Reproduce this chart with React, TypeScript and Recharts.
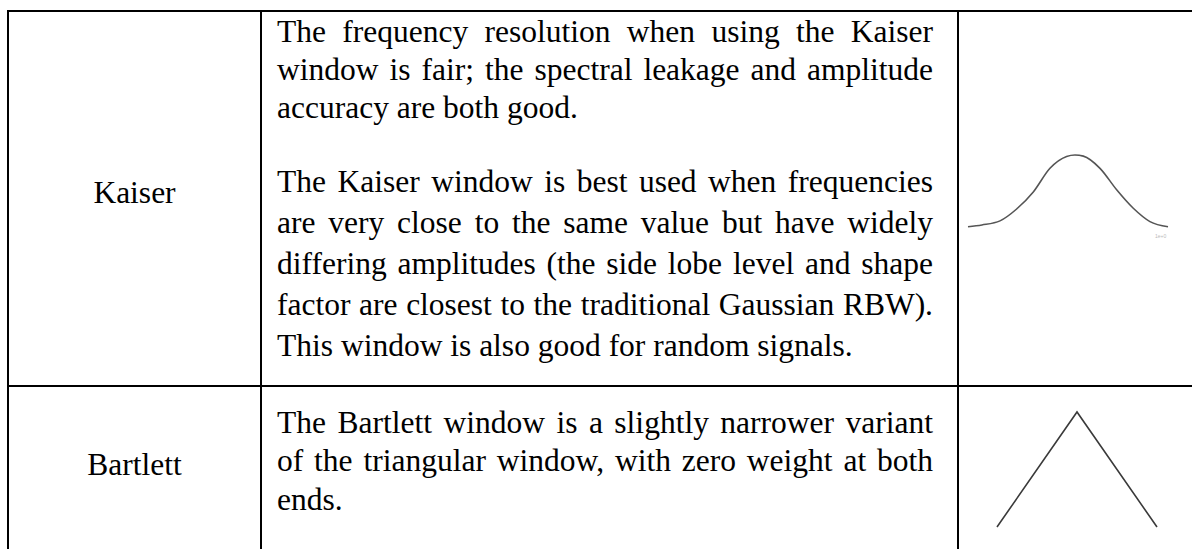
import React from "react"
import { LineChart, Line, XAxis, YAxis } from "recharts"

// window shapes (position relative to the peak, relative amplitude)
const kaiserPos = [-1.15, -1, -0.806, -0.627, -0.448, -0.269, -0.09, 0, 0.09, 0.269, 0.448, 0.627, 0.806, 1]
const kaiserAmp = [0.03, 0.055, 0.11, 0.27, 0.5, 0.82, 0.98, 1, 0.985, 0.82, 0.53, 0.28, 0.1, 0.03]
const bartlettPos = [-1, 0, 1]
const bartlettAmp = [0, 1, 0]

const kaiserLines = [
  "The frequency resolution when using the Kaiser",
  "window is fair; the spectral leakage and amplitude",
  "accuracy are both good.",
]
const kaiserLines2 = [
  "The Kaiser window is best used when frequencies",
  "are very close to the same value but have widely",
  "differing amplitudes (the side lobe level and shape",
  "factor are closest to the traditional Gaussian RBW).",
  "This window is also good for random signals.",
]
const bartlettLines = [
  "The Bartlett window is a slightly narrower variant",
  "of the triangular window, with zero weight at both",
  "ends.",
]

const kaiserData = kaiserPos.map((t, i) => ({ t, w: kaiserAmp[i] }))
const bartlettData = bartlettPos.map((t, i) => ({ t, w: bartlettAmp[i] }))

const FS = 31.5
const LH = 38
const OFF = 29.5 // baseline offset inside a line box

const lineStyle = (baseline: number, last: boolean): React.CSSProperties => ({
  position: "absolute",
  left: 277,
  width: 656,
  top: baseline - OFF,
  height: LH,
  lineHeight: `${LH}px`,
  whiteSpace: "nowrap",
  textAlign: last ? "left" : "justify",
  textAlignLast: last ? "left" : "justify",
})

function TextLines({ lines, first, step }: { lines: string[]; first: number; step: number }) {
  return (
    <>
      {lines.map((l, i) => (
        <div key={i} style={lineStyle(first + i * step, i === lines.length - 1)}>
          {l}
        </div>
      ))}
    </>
  )
}

function WindowChart({
  data,
  domain,
  left,
  top,
  width,
  height,
  curve,
  color,
}: {
  data: { t: number; w: number }[]
  domain: [number, number]
  left: number
  top: number
  width: number
  height: number
  curve: "monotone" | "linear"
  color: string
}) {
  const m = 5
  return (
    <div style={{ position: "absolute", left: left - m, top: top - m }}>
      <LineChart width={width + 2 * m} height={height + 2 * m} data={data} margin={{ top: m, right: m, bottom: m, left: m }}>
        <XAxis dataKey="t" type="number" domain={domain} hide />
        <YAxis type="number" domain={[0, 1]} hide />
        <Line
          type={curve}
          dataKey="w"
          stroke={color}
          strokeWidth={1.6}
          dot={false}
          isAnimationActive={false}
        />
      </LineChart>
    </div>
  )
}

const black = "#000"

export default function App() {
  return (
    <div
      style={{
        position: "absolute",
        left: 0,
        top: 0,
        width: 1192,
        height: 549,
        overflow: "hidden",
        background: "#fff",
        fontFamily: "'Liberation Serif', 'Times New Roman', serif",
        fontSize: FS,
        color: "#000",
      }}
    >
      {/* table rules */}
      <div style={{ position: "absolute", left: 7, top: 10, width: 1200, height: 2, background: black }} />
      <div style={{ position: "absolute", left: 7, top: 385, width: 1200, height: 2, background: black }} />
      <div style={{ position: "absolute", left: 7, top: 10, width: 2, height: 560, background: black }} />
      <div style={{ position: "absolute", left: 260, top: 10, width: 2, height: 560, background: black }} />
      <div style={{ position: "absolute", left: 957, top: 10, width: 2, height: 560, background: black }} />

      {/* first column */}
      <div style={{ position: "absolute", left: 9, width: 251, top: 203 - OFF, lineHeight: `${LH}px`, textAlign: "center" }}>
        Kaiser
      </div>
      <div style={{ position: "absolute", left: 9, width: 251, top: 475 - OFF, lineHeight: `${LH}px`, textAlign: "center" }}>
        Bartlett
      </div>

      {/* description column */}
      <TextLines lines={kaiserLines} first={42.7} step={37.7} />
      <TextLines lines={kaiserLines2} first={192.5} step={41} />
      <TextLines lines={bartlettLines} first={433} step={38.5} />

      {/* window shapes */}
      <WindowChart
        data={kaiserData}
        domain={[-1.15, 1]}
        left={968}
        top={155}
        width={200}
        height={74}
        curve="monotone"
        color="#555"
      />
      <div style={{ position: "absolute", left: 1155, top: 233, fontSize: 5, color: "#bbb", fontFamily: "Arial" }}>
        1e+0
      </div>
      <WindowChart
        data={bartlettData}
        domain={[-1, 1]}
        left={997}
        top={412}
        width={160}
        height={115}
        curve="linear"
        color="#3a3a3a"
      />
    </div>
  )
}
